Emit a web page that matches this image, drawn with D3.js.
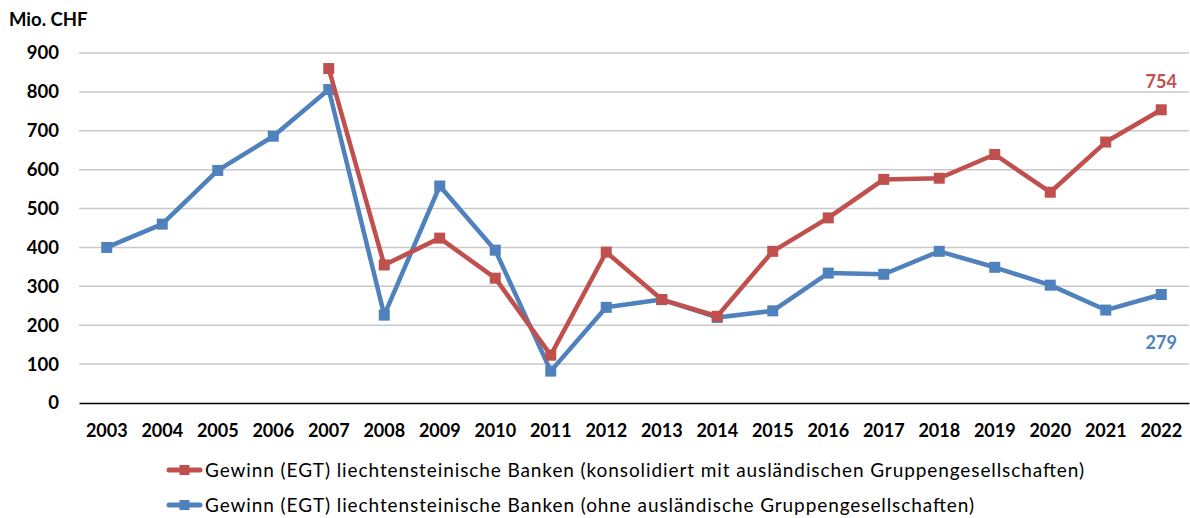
<!DOCTYPE html>
<html>
<head>
<meta charset="utf-8">
<script src="https://cdn.jsdelivr.net/npm/d3@7"></script>
<style>
  body { margin: 0; background: #fff; }
  text { font-family: Lato, "Open Sans", sans-serif; }
</style>
</head>
<body>
<div id="chart"></div>
<script>
const years = ["2003", "2004", "2005", "2006", "2007", "2008", "2009", "2010", "2011", "2012",
    "2013", "2014", "2015", "2016", "2017", "2018", "2019", "2020", "2021", "2022"];

// consolidated (starts 2007)
const consolidated = [null, null, null, null, 860, 355, 424, 321, 123, 388,
    266, 223, 390, 476, 575, 578, 639, 542, 671, 754];

// without foreign group companies
const standalone = [400, 460, 598, 686, 806, 226, 558, 393, 82, 246,
    266, 220, 237, 334, 331, 390, 349, 303, 239, 279];

const yTicks = [0, 100, 200, 300, 400, 500, 600, 700, 800, 900];

const seriesNames = [
    "Gewinn (EGT) liechtensteinische Banken (konsolidiert mit ausländischen Gruppengesellschaften)",
    "Gewinn (EGT) liechtensteinische Banken (ohne ausländische Gruppengesellschaften)"
];
const colors = ["#C0504D", "#4F81BD"];

const W = 1190, H = 518;
const margin = { top: 53, right: 1, bottom: 115, left: 79 };
const width = W - margin.left - margin.right;
const height = H - margin.top - margin.bottom;

const svg = d3.select("#chart").append("svg")
    .attr("width", W)
    .attr("height", H);

const g = svg.append("g")
    .attr("transform", `translate(${margin.left},${margin.top})`);

const x = d3.scaleBand().domain(years).range([0, width]);
const y = d3.scaleLinear().domain([0, 900]).range([height, 0]);

// gridlines
g.selectAll(".grid")
    .data(yTicks.filter(d => d > 0))
    .enter().append("line")
    .attr("x1", 0).attr("x2", width)
    .attr("y1", d => y(d)).attr("y2", d => y(d))
    .attr("stroke", "#c9c9c9")
    .attr("stroke-width", 1.5);

// y axis labels
g.append("g")
    .call(d3.axisLeft(y).tickValues(yTicks).tickSize(0).tickPadding(20))
    .call(a => a.select(".domain").remove())
    .selectAll("text")
    .style("font-size", "18.5px")
    .style("font-weight", "bold")
    .style("font-family", "Lato, sans-serif")
    .attr("fill", "#000");

// x axis
g.append("g")
    .attr("transform", `translate(0,${height})`)
    .call(d3.axisBottom(x).tickSize(0).tickPadding(21))
    .call(a => a.select(".domain").attr("stroke", "#000").attr("stroke-width", 1.5))
    .selectAll("text")
    .style("font-size", "18px")
    .style("font-weight", "bold")
    .style("font-family", "Lato, sans-serif")
    .attr("fill", "#000");

// unit label
svg.append("text")
    .attr("x", 9)
    .attr("y", 26)
    .style("font-size", "18.5px")
    .style("font-weight", "bold")
    .text("Mio. CHF");

const line = d3.line()
    .defined(d => d.v != null)
    .x(d => x(d.year) + x.bandwidth() / 2)
    .y(d => y(d.v));

const allSeries = [consolidated, standalone].map((vals, i) => ({
    name: seriesNames[i],
    color: colors[i],
    points: years.map((yr, j) => ({ year: yr, v: vals[j] }))
}));

// draw blue first, red on top like the original
[allSeries[1], allSeries[0]].forEach(s => {
    g.append("path")
        .datum(s.points)
        .attr("fill", "none")
        .attr("stroke", s.color)
        .attr("stroke-width", 4.5)
        .attr("stroke-linejoin", "round")
        .attr("d", line);

    g.selectAll(null)
        .data(s.points.filter(d => d.v != null))
        .enter().append("rect")
        .attr("x", d => x(d.year) + x.bandwidth() / 2 - 5.5)
        .attr("y", d => y(d.v) - 5.5)
        .attr("width", 11)
        .attr("height", 11)
        .attr("fill", s.color);
});

// end labels
const last = years[years.length - 1];
g.append("text")
    .attr("x", x(last) + x.bandwidth() / 2)
    .attr("y", y(consolidated[consolidated.length - 1]) - 22)
    .attr("text-anchor", "middle")
    .style("font-size", "18px")
    .style("font-weight", "bold")
    .attr("fill", colors[0])
    .text(consolidated[consolidated.length - 1]);

g.append("text")
    .attr("x", x(last) + x.bandwidth() / 2)
    .attr("y", y(standalone[standalone.length - 1]) + 54)
    .attr("text-anchor", "middle")
    .style("font-size", "18px")
    .style("font-weight", "bold")
    .attr("fill", colors[1])
    .text(standalone[standalone.length - 1]);

// legend
const legendWidths = [879, 769];
const legend = svg.append("g").attr("transform", "translate(169,470)");
allSeries.forEach((s, i) => {
    const row = legend.append("g").attr("transform", `translate(0,${i * 35})`);
    row.append("line")
        .attr("x1", 0).attr("x2", 31)
        .attr("stroke", s.color)
        .attr("stroke-width", 5)
        .attr("stroke-linecap", "round");
    row.append("rect")
        .attr("x", 10.5).attr("y", -5)
        .attr("width", 10).attr("height", 10)
        .attr("fill", s.color);
    row.append("text")
        .attr("x", 36)
        .attr("y", 6.5)
        .style("font-size", "19px")
        .attr("fill", "#000")
        .attr("textLength", legendWidths[i])
        .attr("lengthAdjust", "spacing")
        .text(s.name);
});
</script>
</body>
</html>
